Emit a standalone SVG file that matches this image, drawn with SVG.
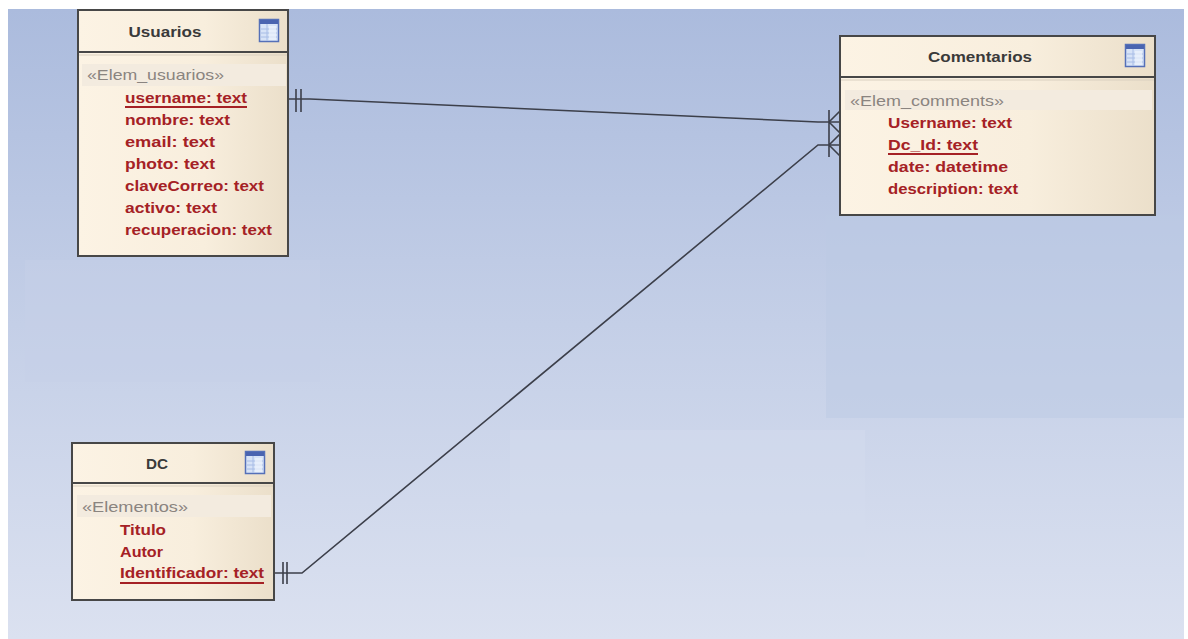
<svg xmlns="http://www.w3.org/2000/svg" width="1188" height="639" viewBox="0 0 1188 639">
<defs>
<linearGradient id="bg" x1="0" y1="0" x2="0" y2="1">
<stop offset="0" stop-color="#abbbdd"/>
<stop offset="0.5" stop-color="#c4cfe7"/>
<stop offset="1" stop-color="#dbe1f0"/>
</linearGradient>
<linearGradient id="box" x1="0" y1="0" x2="1" y2="0">
<stop offset="0" stop-color="#fcf3e4"/>
<stop offset="0.6" stop-color="#f8eedd"/>
<stop offset="1" stop-color="#ebdfca"/>
</linearGradient>
<g id="icon">
<rect x="0.5" y="0.5" width="19" height="22" fill="#d7e3f7" stroke="#5570b8" stroke-width="1.5"/>
<rect x="1" y="1" width="18" height="4" fill="#4a64b0"/>
<path d="M2,10 H18 M2,14 H18 M2,18 H18 M8,5 V22" stroke="#a8bde6" stroke-width="1" fill="none"/>
<rect x="10" y="7" width="7" height="14" fill="#eef3fc" opacity="0.7"/>
</g>
</defs>
<style>
.ent{fill:url(#box);stroke:#474747;stroke-width:2}
.div{stroke:#474747;stroke-width:2}
.div2{stroke:#d9cfbf;stroke-width:1}
.title{font-family:"Liberation Sans",Arial,sans-serif;font-size:15px;font-weight:bold;fill:#3a3a3a;text-anchor:middle}
.st{font-family:"Liberation Sans",Arial,sans-serif;font-size:15px;fill:#8a8480}
.at{font-family:"Liberation Sans",Arial,sans-serif;font-size:15px;font-weight:bold;fill:#a52125}
.ul{stroke:#a52125;stroke-width:2}
.bandr{fill:#f3ebdf}
.conn{fill:none;stroke:#3c3f4a;stroke-width:1.6}
</style>
<rect x="0" y="0" width="1188" height="639" fill="#ffffff"/>
<rect x="8" y="9" width="1176" height="630" fill="url(#bg)"/>
<rect x="25" y="260" width="295" height="122" fill="#c6d0e8" opacity="0.5"/>
<rect x="826" y="215" width="358" height="203" fill="#bccae4" opacity="0.5"/>
<rect x="510" y="430" width="355" height="127" fill="#d3dbee" opacity="0.5"/>

<g id="connectors">
<path class="conn" d="M288,99 H310 L818,122 H840"/>
<path class="conn" d="M296,89 V112 M301,89 V112"/>
<path class="conn" d="M274,573 H302 L818,145 H840"/>
<path class="conn" d="M283,562 V584 M287,562 V584"/>
<path class="conn" d="M829,110 V157 M829,122 L840,111 M829,122 L840,133 M829,145 L840,134 M829,145 L840,156"/>
</g>

<g id="Usuarios">
<rect class="ent" x="78" y="10" width="210" height="246"/>
<line class="div" x1="78" y1="52" x2="288" y2="52"/>
<line class="div2" x1="79" y1="55" x2="287" y2="55"/>
<rect class="bandr" x="82" y="64" width="204" height="22"/>
<text class="title" x="165" y="37" textLength="73" lengthAdjust="spacingAndGlyphs">Usuarios</text>
<use href="#icon" x="259" y="19"/>
<text class="st" x="87" y="80" textLength="137" lengthAdjust="spacingAndGlyphs">«Elem_usuarios»</text>
<text class="at" x="125" y="103" textLength="122" lengthAdjust="spacingAndGlyphs">username: text</text>
<line class="ul" x1="125" y1="107" x2="247" y2="107"/>
<text class="at" x="125" y="125" textLength="105" lengthAdjust="spacingAndGlyphs">nombre: text</text>
<text class="at" x="125" y="147" textLength="90" lengthAdjust="spacingAndGlyphs">email: text</text>
<text class="at" x="125" y="169" textLength="90" lengthAdjust="spacingAndGlyphs">photo: text</text>
<text class="at" x="125" y="191" textLength="139" lengthAdjust="spacingAndGlyphs">claveCorreo: text</text>
<text class="at" x="125" y="213" textLength="92" lengthAdjust="spacingAndGlyphs">activo: text</text>
<text class="at" x="125" y="235" textLength="147" lengthAdjust="spacingAndGlyphs">recuperacion: text</text>
</g>

<g id="Comentarios">
<rect class="ent" x="840" y="36" width="315" height="179"/>
<line class="div" x1="840" y1="77" x2="1155" y2="77"/>
<line class="div2" x1="841" y1="80" x2="1154" y2="80"/>
<rect class="bandr" x="845" y="90" width="307" height="20"/>
<text class="title" x="980" y="62" textLength="104" lengthAdjust="spacingAndGlyphs">Comentarios</text>
<use href="#icon" x="1125" y="44"/>
<text class="st" x="850" y="106" textLength="154" lengthAdjust="spacingAndGlyphs">«Elem_comments»</text>
<text class="at" x="888" y="128" textLength="124" lengthAdjust="spacingAndGlyphs">Username: text</text>
<text class="at" x="888" y="150" textLength="90" lengthAdjust="spacingAndGlyphs">Dc_Id: text</text>
<line class="ul" x1="888" y1="154" x2="978" y2="154"/>
<text class="at" x="888" y="172" textLength="120" lengthAdjust="spacingAndGlyphs">date: datetime</text>
<text class="at" x="888" y="194" textLength="130" lengthAdjust="spacingAndGlyphs">description: text</text>
</g>

<g id="DC">
<rect class="ent" x="72" y="443" width="202" height="157"/>
<line class="div" x1="72" y1="483" x2="274" y2="483"/>
<line class="div2" x1="73" y1="486" x2="273" y2="486"/>
<rect class="bandr" x="77" y="495" width="194" height="22"/>
<text class="title" x="157" y="469" textLength="22" lengthAdjust="spacingAndGlyphs">DC</text>
<use href="#icon" x="245" y="451"/>
<text class="st" x="82" y="512" textLength="106" lengthAdjust="spacingAndGlyphs">«Elementos»</text>
<text class="at" x="120" y="535" textLength="46" lengthAdjust="spacingAndGlyphs">Titulo</text>
<text class="at" x="120" y="557" textLength="43" lengthAdjust="spacingAndGlyphs">Autor</text>
<text class="at" x="120" y="578" textLength="144" lengthAdjust="spacingAndGlyphs">Identificador: text</text>
<line class="ul" x1="120" y1="583" x2="264" y2="583"/>
</g>
</svg>
